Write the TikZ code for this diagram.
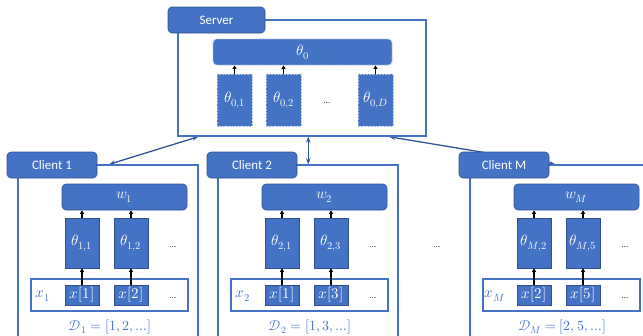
\documentclass[tikz,border=0pt]{standalone}
\usepackage{fontspec}
\usepackage{unicode-math}
\setmainfont{Carlito}
\setmathfont{Latin Modern Math}
\usetikzlibrary{arrows.meta,calc}
\definecolor{obl}{HTML}{4472C4}
\definecolor{obd}{HTML}{2F528F}
\definecolor{arr}{HTML}{2F5597}
\definecolor{dsh}{HTML}{A9BFE6}
\pgfdeclarelayer{bg}
\pgfsetlayers{bg,main}
\newcommand\myclient[9]{%
\begin{scope}[xshift=#1pt]
\node[frm, minimum width=180pt, minimum height=180pt] (#2f) at (108,255) {};
\node[lbl, minimum width=90pt, minimum height=26pt] (#2l) at (52,165) {#3};
\node[bx, rounded corners=4pt, minimum width=125pt, minimum height=26pt] (#2w) at (124.5,197) {$w_{#4}$};
\node[bx, minimum width=34pt, minimum height=50pt] (#2ta) at (82,243) {$\theta_{#4,#5}$};
\node[bx, minimum width=34pt, minimum height=50pt] (#2tb) at (131,243) {$\theta_{#4,#6}$};
\node[dots] (#2d1) at (173,247) {\ldots};
\node[frm, minimum width=157pt, minimum height=32pt] (#2in) at (109.5,295) {};
\node[bx, minimum width=34pt, minimum height=20pt] (#2xa) at (82,295) {$x[#5]$};
\node[bx, minimum width=34pt, minimum height=20pt] (#2xb) at (131,295) {$x[#6]$};
\node[bltxt] (#2xl) at (43,296) {$x_{#4}$};
\node[dots] (#2d2) at (173,298) {\ldots};
\node[bltxt, font=\fontsize{14}{16}\selectfont] (#2D) at (110,327) {$\mathcal{D}_{#4}=[#9,\ldots]$};
\draw[barr] (#2ta.north) -- (#2w.south -| #2ta.north);
\draw[barr] (#2tb.north) -- (#2w.south -| #2tb.north);
\draw[barr] (#2xa.north) -- (#2ta.south);
\draw[barr] (#2xb.north) -- (#2tb.south);
\end{scope}}
\begin{document}
\begin{tikzpicture}[x=1pt,y=-1pt,
 bx/.style={draw=obd, line width=0.6pt, fill=obl, text=white, inner sep=0pt, font=\fontsize{15}{17}\selectfont},
 lbl/.style={bx, rounded corners=4pt, font=\fontsize{13}{15}\selectfont},
 dbx/.style={bx, draw=dsh, dash pattern=on 2pt off 1.2pt, line width=0.9pt},
 frm/.style={draw=obl, line width=1.5pt, inner sep=0pt},
 dots/.style={inner sep=0pt, text=black!80, font=\fontsize{9}{10}\selectfont},
 bltxt/.style={inner sep=0pt, text=obl, font=\fontsize{15}{17}\selectfont},
 barr/.style={-{Triangle[length=3.5pt,width=4pt]}, line width=1.3pt, black},
 carr/.style={{Stealth[length=6pt,width=4.5pt]}-{Stealth[length=6pt,width=4.5pt]}, line width=1.3pt, arr}]
\useasboundingbox (0,0) rectangle (643,335);
% server
\node[frm, minimum width=248pt, minimum height=116pt] (sf) at (302,78) {};
\node[dbx, rounded corners=4pt, minimum width=179pt, minimum height=26pt] (t0) at (302.5,52) {$\theta_0$};
\node[dbx, minimum width=35pt, minimum height=52pt] (t01) at (234.5,100) {$\theta_{0,1}$};
\node[dbx, minimum width=35pt, minimum height=52pt] (t02) at (283.5,100) {$\theta_{0,2}$};
\node[dbx, minimum width=35pt, minimum height=52pt] (t0D) at (375.5,100) {$\theta_{0,D}$};
\node[dots] (sd) at (327,103) {\ldots};
\draw[barr] (t01.north) -- (t0.south -| t01.north);
\draw[barr] (t02.north) -- (t0.south -| t02.north);
\draw[barr] (t0D.north) -- (t0.south -| t0D.north);
\node[lbl, minimum width=97pt, minimum height=26pt] (sl) at (216.5,20) {Server};
% clients
\myclient{0}{ca}{Client 1}{1}{1}{2}{}{}{1,2}
\myclient{200}{cb}{Client 2}{2}{1}{3}{}{}{1,3}
\myclient{452}{cm}{Client M}{M}{2}{5}{}{}{2,5}
\node[dots] (md) at (437,247) {\ldots};
% connectors
\coordinate (sa1) at ($(sf.south west)+(21,0)$);
\coordinate (sa2) at ($(sf.south west)+(131,0)$);
\coordinate (sa3) at ($(sf.south west)+(212,0)$);
\coordinate (ca1) at ($(caf.north west)+(92,0)$);
\coordinate (ca2) at ($(cbf.north west)+(91,0)$);
\coordinate (ca3) at ($(cmf.north west)+(86,0)$);
\begin{pgfonlayer}{bg}
\draw[carr] (ca1) -- (sa1);
\draw[carr] (ca2) -- (sa2);
\draw[carr] (ca3) -- (sa3);
\end{pgfonlayer}
\end{tikzpicture}
\end{document}
